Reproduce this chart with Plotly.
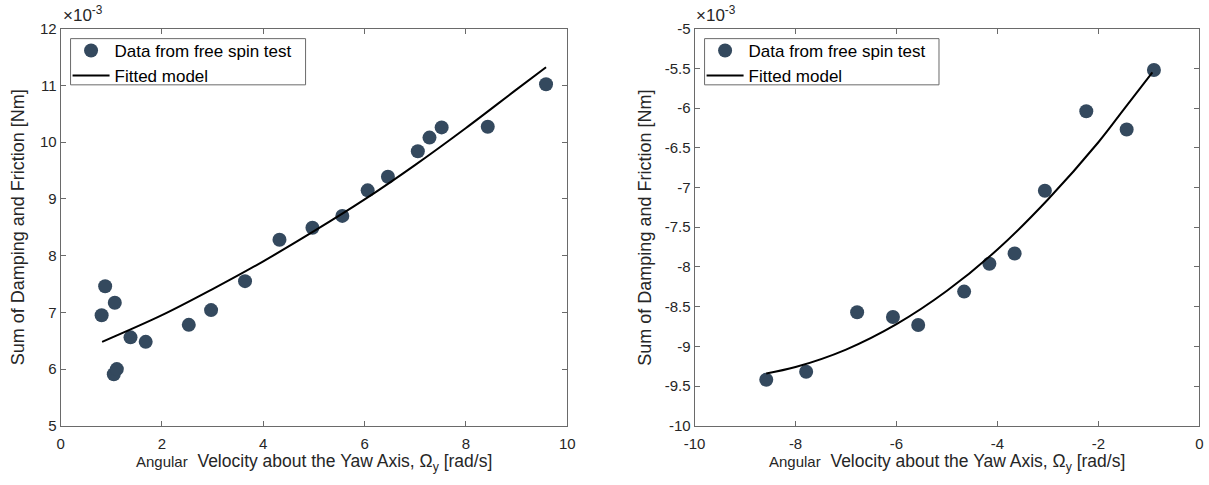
import plotly.graph_objects as go

# ---------------- data (values in units of 1e-3 Nm) ----------------
left_x = [0.81, 0.88, 1.07, 1.05, 1.11, 1.38, 1.68, 2.53, 2.97, 3.64,
          4.32, 4.97, 5.56, 6.06, 6.46, 7.05, 7.28, 7.52, 8.43, 9.58]
left_y = [6.95, 7.46, 7.17, 5.91, 6.00, 6.56, 6.48, 6.78, 7.04, 7.55,
          8.28, 8.49, 8.70, 9.15, 9.39, 9.84, 10.08, 10.26, 10.27, 11.02]
left_fit_x = [0.82, 2, 3, 4, 5, 6, 7, 8, 9, 9.58]
left_fit_y = [6.48, 6.95, 7.41, 7.90, 8.43, 8.99, 9.60, 10.25, 10.93, 11.32]

right_x = [-8.58, -7.79, -6.78, -6.07, -5.57, -4.66, -4.16, -3.66, -3.06, -2.24, -1.44, -0.90]
right_y = [-9.42, -9.32, -8.57, -8.63, -8.73, -8.31, -7.96, -7.83, -7.04, -6.04, -6.27, -5.52]
right_fit_x = [-8.58, -8, -7, -6, -5, -4, -3, -2, -1.5, -0.93]
right_fit_y = [-9.34, -9.26, -9.04, -8.72, -8.30, -7.78, -7.15, -6.43, -6.02, -5.55]

left_xticks = [0, 2, 4, 6, 8, 10]
left_xlabels = ["0", "2", "4", "6", "8", "10"]
left_yticks = [5, 6, 7, 8, 9, 10, 11, 12]
left_ylabels = ["5", "6", "7", "8", "9", "10", "11", "12"]
right_xticks = [-10, -8, -6, -4, -2, 0]
right_xlabels = ["-10", "-8", "-6", "-4", "-2", "0"]
right_yticks = [-10, -9.5, -9, -8.5, -8, -7.5, -7, -6.5, -6, -5.5, -5]
right_ylabels = ["-10", "-9.5", "-9", "-8.5", "-8", "-7.5", "-7", "-6.5", "-6", "-5.5", "-5"]

# The page body keeps an 8px margin and the drawn figure ends up 16px smaller
# than requested, so request 16px more and place everything against the
# 1209x485 area that is actually drawn, offset by 8px.
OFF = 8
RW, RH = 1209, 485
W, H = RW + 2 * OFF, RH + 2 * OFF


def fx(px):
    return (px - OFF) / RW


def fy(py):
    return 1 - (py - OFF) / RH


FONT = "Liberation Sans, Arial, Helvetica, sans-serif"
MARK = "#34495e"
AXC = "#6a6a6a"
TXT = "#262626"

fig = go.Figure()
fig.add_trace(go.Scatter(x=left_x, y=left_y, mode="markers", name="Data from free spin test",
                         marker=dict(size=14, color=MARK), xaxis="x", yaxis="y", legend="legend"))
fig.add_trace(go.Scatter(x=left_fit_x, y=left_fit_y, mode="lines", name="Fitted model",
                         line=dict(color="black", width=2, shape="spline"), xaxis="x", yaxis="y", legend="legend"))
fig.add_trace(go.Scatter(x=right_x, y=right_y, mode="markers", name="Data from free spin test",
                         marker=dict(size=14, color=MARK), xaxis="x2", yaxis="y2", legend="legend2"))
fig.add_trace(go.Scatter(x=right_fit_x, y=right_fit_y, mode="lines", name="Fitted model",
                         line=dict(color="black", width=2, shape="spline"), xaxis="x2", yaxis="y2", legend="legend2"))

ydom = [fy(425.7), fy(27.7)]
lx = [fx(57.7), fx(565.7)]
rx = [fx(693.3), fx(1199.3)]

axis_common = dict(showline=True, linecolor=AXC, linewidth=1, mirror="ticks", ticks="inside",
                   ticklen=5, tickcolor=AXC, showgrid=False, zeroline=False,
                   tickfont=dict(family=FONT, size=15, color=TXT), tickmode="array")

legend_common = dict(xanchor="left", yanchor="top", bgcolor="rgba(0,0,0,0)",
                     borderwidth=0, font=dict(family=FONT, size=17, color="black"),
                     itemwidth=37, tracegroupgap=0)

fig.update_layout(
    width=W, height=H, margin=dict(l=0, r=0, t=0, b=0),
    paper_bgcolor="white", plot_bgcolor="white",
    font=dict(family=FONT, color=TXT),
    xaxis=dict(domain=lx, range=[0, 10], tickvals=left_xticks, ticktext=left_xlabels, anchor="y",
               ticklabelstandoff=4, **axis_common),
    yaxis=dict(domain=ydom, range=[5, 12], tickvals=left_yticks, ticktext=left_ylabels, anchor="x", **axis_common),
    xaxis2=dict(domain=rx, range=[-10, 0], tickvals=right_xticks, ticktext=right_xlabels, anchor="y2",
                ticklabelstandoff=4, **axis_common),
    yaxis2=dict(domain=ydom, range=[-10, -5], tickvals=right_yticks, ticktext=right_ylabels, anchor="x2", **axis_common),
    legend=dict(x=fx(64.7), y=fy(32), **legend_common),
    legend2=dict(x=fx(700.3), y=fy(32), **legend_common),
)

# legend frames
for x0, x1 in [(67.7, 303.3), (703.3, 938.3)]:
    fig.add_shape(type="rect", xref="paper", yref="paper", x0=fx(x0), x1=fx(x1), y0=fy(84), y1=fy(37.7),
                  line=dict(color=AXC, width=1), fillcolor="white", layer="above")

xtitle = ("<span style='font-size:15px'>Angular</span>  Velocity about the Yaw Axis, "
          "Ω<sub>y</sub> [rad/s]")
ytitle = "Sum of Damping and Friction [Nm]"
for cx in [(lx[0] + lx[1]) / 2, (rx[0] + rx[1]) / 2]:
    fig.add_annotation(text=xtitle, xref="paper", yref="paper", x=cx, y=fy(449),
                       xanchor="center", yanchor="top", showarrow=False,
                       font=dict(family=FONT, size=17.5, color=TXT))
for px in [15, 644]:
    fig.add_annotation(text=ytitle, xref="paper", yref="paper", x=fx(px), y=fy(226.7),
                       xanchor="center", yanchor="middle", textangle=-90, showarrow=False,
                       font=dict(family=FONT, size=18, color=TXT))
for px in [58, 693]:
    fig.add_annotation(text="×10<sup>-3</sup>", xref="paper", yref="paper", x=fx(px), y=fy(26),
                       xanchor="left", yanchor="bottom", showarrow=False,
                       font=dict(family=FONT, size=17, color=TXT))

fig.write_html("out.html")
